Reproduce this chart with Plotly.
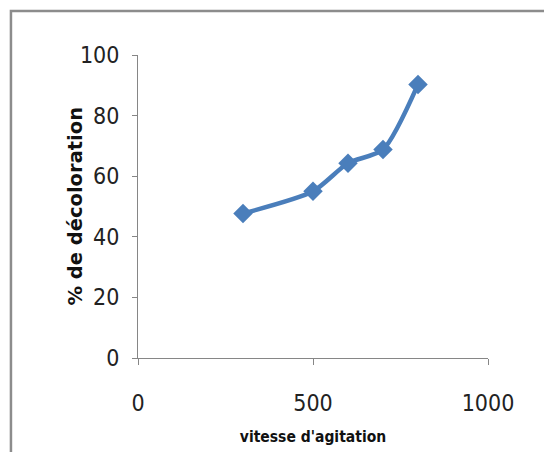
import plotly.graph_objects as go

# Stirring speed (rpm) vs. decolourisation yield (%)
vitesse = [300, 500, 600, 700, 800]
decoloration = [47.7, 55.0, 64.3, 68.8, 90.3]

x_ticks = [0, 500, 1000]
y_ticks = [0, 20, 40, 60, 80, 100]

blue = "#4a7ebb"
axis_grey = "#868686"
narrow = "DejaVu Sans Condensed, sans-serif"
tick_font = dict(family=narrow, size=23, color="#222222")

fig = go.Figure()
fig.add_trace(go.Scatter(
    x=vitesse,
    y=decoloration,
    mode="lines+markers",
    line=dict(color=blue, width=4.5, shape="spline", smoothing=0.7),
    marker=dict(symbol="diamond", size=15, color=blue),
    showlegend=False,
))

fig.update_layout(
    width=544,
    height=452,
    margin=dict(l=138, r=56, t=55, b=94),
    paper_bgcolor="white",
    plot_bgcolor="white",
    xaxis=dict(
        range=[0, 1000],
        automargin=False,
        tickvals=x_ticks,
        ticktext=[str(v) for v in x_ticks],
        showgrid=False,
        zeroline=False,
        showline=True,
        linecolor=axis_grey,
        linewidth=1,
        ticks="outside",
        ticklen=6,
        tickcolor=axis_grey,
        tickfont=tick_font,
        ticklabelstandoff=18,
        title=dict(
            text="vitesse d'agitation",
            font=dict(family=narrow, size=15.5, color="#111111", weight="bold"),
            standoff=16,
        ),
    ),
    yaxis=dict(
        range=[0, 100],
        automargin=False,
        tickvals=y_ticks,
        ticktext=[str(v) for v in y_ticks],
        showgrid=False,
        zeroline=False,
        showline=True,
        linecolor=axis_grey,
        linewidth=1,
        ticks="outside",
        ticklen=5,
        tickcolor=axis_grey,
        tickfont=tick_font,
        ticklabelstandoff=8,
    ),
    annotations=[
        dict(
            text="% de décoloration",
            xref="paper", yref="paper",
            x=-0.18, y=0.5,
            xanchor="center", yanchor="middle",
            textangle=-90,
            showarrow=False,
            font=dict(family="DejaVu Sans, sans-serif", size=19.5, color="#111111", weight="bold"),
        )
    ],
    shapes=[
        dict(
            type="rect",
            xref="paper", yref="paper",
            x0=-0.363, x1=1.6, y0=-0.6, y1=1.145,
            line=dict(color="#8c8c8c", width=2.5),
            fillcolor="rgba(0,0,0,0)",
            layer="below",
        )
    ],
)

fig.write_html("out.html")
